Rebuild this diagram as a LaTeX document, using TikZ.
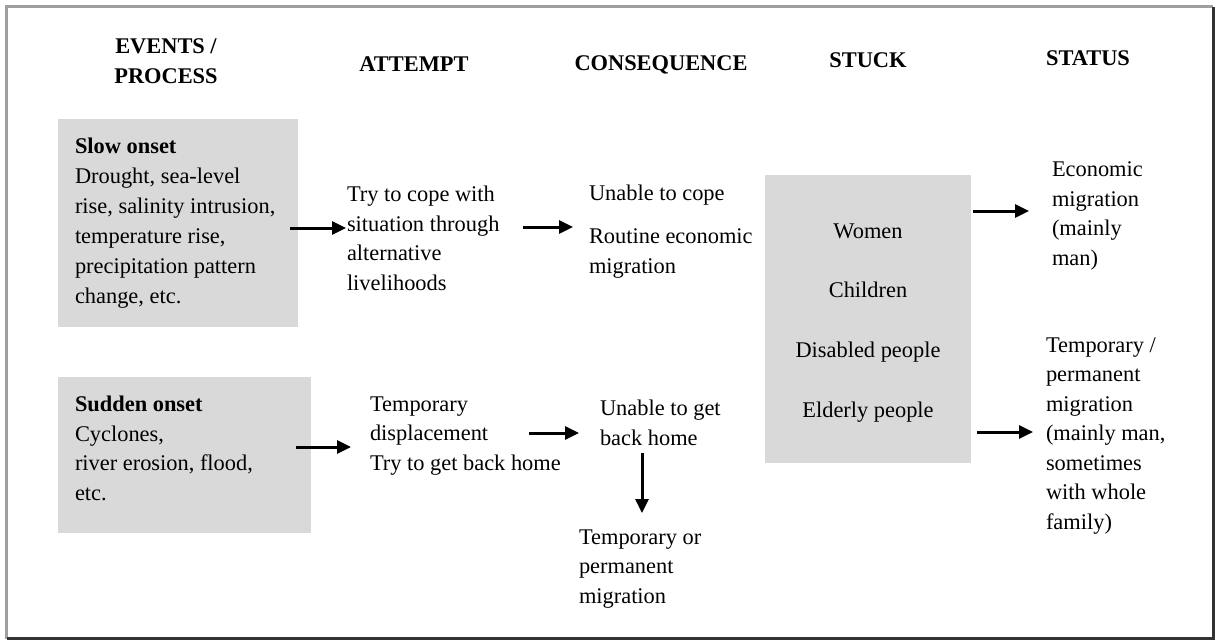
\documentclass[tikz,border=0pt]{standalone}
\usepackage{fontspec}
\setmainfont{Liberation Serif}
\usetikzlibrary{arrows.meta}
\definecolor{boxgray}{HTML}{D9D9D9}
\tikzset{
  txt/.style={inner sep=0pt, outer sep=0pt, align=left, anchor=base west,
    font=\fontsize{22.4}{29.5}\selectfont},
  hdr/.style={inner sep=0pt, outer sep=0pt, align=center, anchor=base,
    font=\fontsize{22.4}{29.5}\selectfont\bfseries},
  graybox/.style={draw=none, fill=boxgray, inner sep=0pt, outer sep=0pt, anchor=north west},
  arr/.style={line width=3pt, -{Triangle[length=14pt,width=13pt]}},
}
\begin{document}
\begin{tikzpicture}[x=1pt,y=-1pt]
\useasboundingbox (0,0) rectangle (1217,641);
% frame
\draw[line width=3pt, gray!75] (1213,6.5) -- (6.5,6.5) -- (6.5,638.5);
\draw[line width=3pt, black!80] (6.5,638.5) -- (1213,638.5) -- (1213,6.5);

% headers (multi-line nodes are placed by the baseline of their last line)
\node[hdr] (h1) at (166,83) {EVENTS /\\PROCESS};
\node[hdr] (h2) at (414,71) {ATTEMPT};
\node[hdr] (h3) at (661,70) {CONSEQUENCE};
\node[hdr] (h4) at (868,67) {STUCK};
\node[hdr] (h5) at (1088,65) {STATUS};

% boxes
\node[graybox, minimum width=240, minimum height=208] (slow) at (58,119) {};
\node[graybox, minimum width=253, minimum height=156] (sudden) at (58,377) {};
\node[graybox, minimum width=206, minimum height=288] (stuck) at (765,175) {};

% texts
\node[txt, font=\fontsize{22.4}{30}\selectfont] (slowtxt) at (75,303) {\textbf{Slow onset}\\Drought, sea-level\\rise, salinity intrusion,\\temperature rise,\\precipitation pattern\\change, etc.};
\node[txt] (cope) at (347,290) {Try to cope with\\situation through\\alternative\\livelihoods};
\node[txt] (unable) at (589,200) {Unable to cope};
\node[txt] (routine) at (589,273) {Routine economic\\migration};
\node[inner sep=0pt, outer sep=0pt, align=center, anchor=base,
  font=\fontsize{22.4}{59.6}\selectfont] (stucktxt) at (868,417)
  {Women\\Children\\Disabled people\\Elderly people};
\node[txt] (econ) at (1052,265) {Economic\\migration\\(mainly\\man)};
\node[txt] (tempperm) at (1046,529) {Temporary /\\permanent\\migration\\(mainly man,\\sometimes\\with whole\\family)};
\node[txt] (suddentxt) at (75,500) {\textbf{Sudden onset}\\Cyclones,\\river erosion, flood,\\etc.};
\node[txt] (tempdisp) at (370,470) {Temporary\\displacement\\Try to get back home};
\node[txt] (unablehome) at (600,445) {Unable to get\\back home};
\node[txt] (tempor) at (579,603) {Temporary or\\permanent\\migration};

% arrow end points
\coordinate (a1s) at (290,228);  \coordinate (a1e) at (346,228);
\coordinate (a2s) at (523,227);  \coordinate (a2e) at (573,227);
\coordinate (a3s) at (973,211);  \coordinate (a3e) at (1029,211);
\coordinate (a4s) at (296,447);  \coordinate (a4e) at (351,447);
\coordinate (a5s) at (529,433);  \coordinate (a5e) at (579,433);
\coordinate (a6s) at (977,432);  \coordinate (a6e) at (1033,432);
\coordinate (a7s) at (642,453);  \coordinate (a7e) at (642,513);

\draw[arr] (a1s) -- (a1e);
\draw[arr] (a2s) -- (a2e);
\draw[arr] (a3s) -- (a3e);
\draw[arr] (a4s) -- (a4e);
\draw[arr] (a5s) -- (a5e);
\draw[arr] (a6s) -- (a6e);
\draw[arr] (a7s) -- (a7e);
\end{tikzpicture}
\end{document}
